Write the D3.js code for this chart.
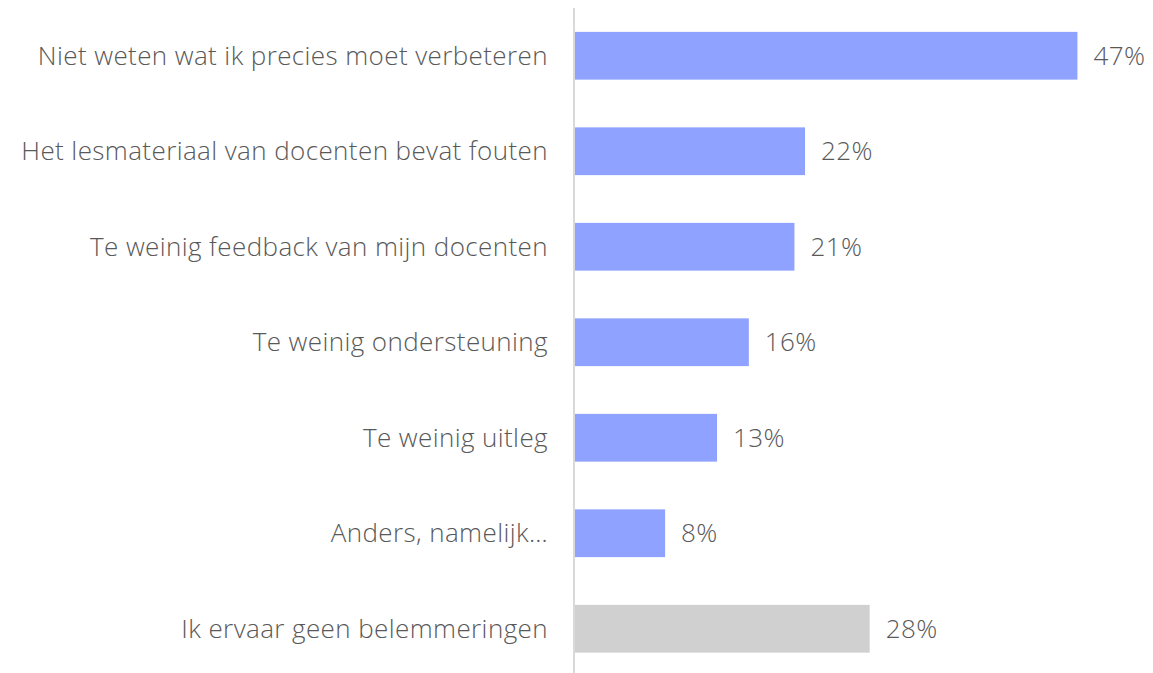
<!DOCTYPE html>
<html>
<head>
<meta charset="utf-8">
<script src="https://cdn.jsdelivr.net/npm/d3@7"></script>
<style>
  html, body { margin: 0; padding: 0; background: #fff; }
  svg text { font-family: "Open Sans", Lato, sans-serif; font-weight: 300; fill: #595959; }
</style>
</head>
<body>
<div id="wrap"></div>
<script>
// categories and values (percent of respondents)
const categories = [
  "Niet weten wat ik precies moet verbeteren",
  "Het lesmateriaal van docenten bevat fouten",
  "Te weinig feedback van mijn docenten",
  "Te weinig ondersteuning",
  "Te weinig uitleg",
  "Anders, namelijk…",
  "Ik ervaar geen belemmeringen"
];
const values = [47.4, 21.7, 20.7, 16.4, 13.4, 8.5, 27.8];
const labels = ["47%", "22%", "21%", "16%", "13%", "8%", "28%"];
const isNone = [false, false, false, false, false, false, true];

const W = 1153, H = 673;
const x0 = 575;

const x = d3.scaleLinear().domain([0, 50]).range([x0, x0 + 530]);
const y = d3.scaleBand()
  .domain(categories)
  .range([8, 676.5])
  .paddingInner(0.5)
  .paddingOuter(0.25);

const svg = d3.select("#wrap").append("svg")
  .attr("width", W)
  .attr("height", H);

const rows = categories.map((c, i) => ({ c, v: values[i], l: labels[i], none: isNone[i] }));

svg.selectAll(".bar")
  .data(rows)
  .enter()
  .append("rect")
  .attr("class", "bar")
  .attr("x", x(0))
  .attr("y", d => y(d.c))
  .attr("width", d => x(d.v) - x(0))
  .attr("height", y.bandwidth())
  .attr("fill", d => d.none ? "#d0d0d0" : "#8fa2ff");

// value labels
svg.selectAll(".val")
  .data(rows)
  .enter()
  .append("text")
  .attr("class", "val")
  .attr("x", d => x(d.v) + 16)
  .attr("y", d => y(d.c) + y.bandwidth() / 2)
  .attr("dy", "0.35em")
  .style("font-size", "26px")
  .style("letter-spacing", "0.4px")
  .text(d => d.l);

// category axis
const yAxis = svg.append("g")
  .attr("transform", "translate(" + (x0 - 1) + ",0)")
  .call(d3.axisLeft(y).tickSize(0).tickPadding(26));

yAxis.select(".domain").remove();
yAxis.selectAll("text")
  .attr("dy", "0.35em")
  .style("font-family", "'Open Sans', Lato, sans-serif")
  .style("font-weight", 300)
  .style("font-size", "26px")
  .style("letter-spacing", "0.4px")
  .style("fill", "#595959");

svg.append("line")
  .attr("x1", x0 - 1).attr("x2", x0 - 1)
  .attr("y1", 8).attr("y2", H)
  .attr("stroke", "#d9d9d9")
  .attr("stroke-width", 2);
</script>
</body>
</html>
